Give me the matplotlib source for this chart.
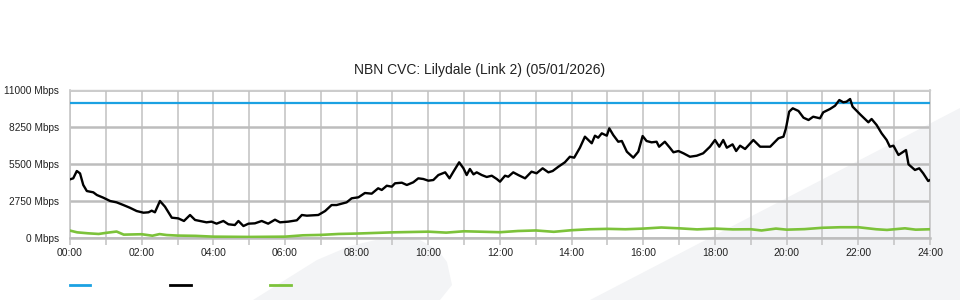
import numpy as np
import matplotlib
matplotlib.use("Agg")
import matplotlib.pyplot as plt
from matplotlib.patches import Polygon
from matplotlib.lines import Line2D

plt.rcParams["font.family"] = ["Liberation Sans", "DejaVu Sans"]

title = "NBN CVC: Lilydale (Link 2) (05/01/2026)"

# capacity (constant)
cap_hours = [0, 24]
cap_mbps = [10000, 10000]

# traffic in (black)
in_hours = [0.00, 0.09, 0.19, 0.28, 0.37, 0.47, 0.65, 0.75, 0.93, 1.12, 1.30, 1.49, 1.67,
            1.86, 2.05, 2.19, 2.28, 2.37, 2.51, 2.65, 2.84, 3.02, 3.18, 3.35, 3.49, 3.63,
            3.81, 3.95, 4.09, 4.28, 4.42, 4.60, 4.70, 4.84, 4.98, 5.16, 5.35, 5.53, 5.72,
            5.86, 6.09, 6.33, 6.47, 6.61, 6.93, 7.12, 7.30, 7.44, 7.58, 7.72, 7.86, 8.05,
            8.23, 8.42, 8.60, 8.70, 8.84, 8.98, 9.07, 9.26, 9.40, 9.58, 9.72, 9.86, 10.00,
            10.14, 10.28, 10.47, 10.59, 10.70, 10.86, 10.98, 11.07, 11.16, 11.26, 11.35,
            11.49, 11.63, 11.77, 11.91, 12.00, 12.14, 12.23, 12.37, 12.51, 12.70, 12.88,
            13.02, 13.19, 13.35, 13.47, 13.63, 13.81, 13.95, 14.07, 14.23, 14.37, 14.56,
            14.65, 14.74, 14.84, 14.98, 15.05, 15.16, 15.30, 15.40, 15.54, 15.72, 15.86,
            15.98, 16.09, 16.23, 16.37, 16.44, 16.60, 16.74, 16.84, 16.98, 17.12, 17.30,
            17.49, 17.67, 17.86, 18.00, 18.12, 18.23, 18.33, 18.49, 18.59, 18.70, 18.84,
            19.07, 19.26, 19.54, 19.77, 19.91, 19.98, 20.07, 20.17, 20.33, 20.47, 20.61,
            20.74, 20.93, 21.02, 21.21, 21.35, 21.47, 21.58, 21.67, 21.77, 21.84, 22.05,
            22.28, 22.37, 22.51, 22.65, 22.79, 22.88, 22.98, 23.12, 23.26, 23.33, 23.40,
            23.58, 23.70, 23.81, 23.95, 24.00]
in_mbps = [4360, 4435, 4980, 4800, 3940, 3490, 3395, 3195, 2995, 2750, 2650, 2450, 2250,
           2005, 1880, 1910, 2030, 1910, 2750, 2330, 1510, 1460, 1265, 1710, 1340, 1265,
           1165, 1215, 1065, 1265, 1020, 965, 1265, 890, 1065, 1090, 1265, 1065, 1360,
           1165, 1215, 1315, 1710, 1660, 1710, 2005, 2450, 2450, 2550, 2650, 2950, 3025,
           3345, 3295, 3695, 3570, 3885, 3815, 4065, 4110, 3940, 4140, 4435, 4385, 4260,
           4310, 4680, 4880, 4435, 4930, 5625, 5180, 4680, 5130, 4730, 4880,
           4680, 4535, 4630, 4385, 4185, 4630, 4555, 4880, 4680, 4435, 4930,
           4810, 5180, 4880, 4980, 5300, 5625, 6040, 5970, 6710, 7530, 7040,
           7605, 7455, 7780, 7605, 8150, 7655, 7155, 7210, 6415, 5970, 6415,
           7580, 7210, 7110, 7155, 6785, 7155, 6710, 6370, 6465, 6295, 6040,
           6115, 6295, 6785, 7285, 6785, 7285, 6710, 6960, 6465, 6860, 6615,
           7285, 6785, 6785, 7410, 7530, 8150, 9390, 9640, 9440, 8940, 8770,
           9015, 8895, 9340, 9590, 9830, 10255, 10085, 10130, 10330, 9760, 9190,
           8600, 8845, 8400, 7780, 7285, 6785, 6860, 6170, 6415, 6540, 5475,
           5055, 5180, 4810, 4235, 4310]

# traffic out (green)
out_hours = [0.0, 0.2, 0.5, 0.8, 1.0, 1.3, 1.5, 2.0, 2.3, 2.5, 2.7, 3.0, 3.5, 4.0, 5.0, 6.0,
             6.5, 7.0, 7.5, 8.0, 9.0, 10.0, 10.5, 11.0, 12.0, 12.5, 13.0, 13.5, 14.0, 14.5,
             15.0, 15.5, 16.0, 16.5, 17.0, 17.5, 18.0, 18.5, 19.0, 19.3, 19.7, 20.0, 20.5,
             21.0, 21.5, 22.0, 22.5, 22.8, 23.3, 23.6, 24.0]
out_mbps = [550, 420, 350, 300, 380, 480, 250, 280, 170, 290, 220, 180, 160, 100, 80, 100,
            200, 230, 300, 330, 420, 470, 400, 500, 430, 520, 560, 460, 580, 650,
            680, 650, 700, 780, 720, 640, 700, 640, 650, 560, 700, 620, 660,
            760, 800, 800, 650, 600, 720, 620, 650]

y_ticks = [0, 2750, 5500, 8250, 11000]
y_labels = ["0 Mbps", "2750 Mbps", "5500 Mbps", "8250 Mbps", "11000 Mbps"]
x_ticks = list(range(0, 25, 2))
x_labels = ["%02d:00" % h for h in x_ticks]

W, H = 960, 300
fig = plt.figure(figsize=(W / 100, H / 100), dpi=100)
fig.patch.set_facecolor("white")

# faint watermark behind the chart
wm = "#f3f4f6"
shape1 = [(253, 300), (285, 280), (317, 260), (350, 246), (380, 239), (400, 237),
          (420, 240), (438, 250), (447, 262), (452, 285), (440, 300)]
shape2 = [(590, 300), (960, 108), (960, 300)]
for s in (shape1, shape2):
    pts = [(x / W, 1 - y / H) for x, y in s]
    fig.patches.append(Polygon(pts, closed=True, transform=fig.transFigure,
                               facecolor=wm, edgecolor="none", zorder=-5))

ax = fig.add_axes([70 / W, 1 - 238 / H, 860 / W, 148 / H])
ax.set_zorder(2)
ax.set_facecolor("none")

ax.plot(cap_hours, cap_mbps, color="#1ba1e2", lw=1.6, zorder=3)
ax.plot(in_hours, in_mbps, color="black", lw=1.7, zorder=4)
ax.plot(out_hours, out_mbps, color="#7cc23a", lw=1.9, zorder=3)

ax.set_xlim(0, 24)
ax.set_ylim(0, 11000)
ax.set_yticks(y_ticks)
ax.set_yticklabels(y_labels)
ax.set_xticks(x_ticks)
ax.set_xticklabels(x_labels)
ax.set_xticks(range(0, 25), minor=True)

grid_c = "#c6c6c6"
ax.grid(axis="x", which="both", color=grid_c, lw=1.2, zorder=1)
ax.grid(axis="y", which="major", color="#bdbdbd", lw=1.8, zorder=1)

for side in ("left", "right"):
    ax.spines[side].set_color(grid_c)
    ax.spines[side].set_linewidth(1.2)
ax.spines["top"].set_color("#cccccc")
ax.spines["top"].set_linewidth(1.0)
ax.spines["bottom"].set_color("#bdbdbd")
ax.spines["bottom"].set_linewidth(1.8)

ax.tick_params(axis="x", which="both", length=5, width=1.2, color=grid_c,
               labelsize=7.5, pad=2, labelcolor="#222222")
ax.tick_params(axis="y", length=0, labelsize=7.3, pad=8, labelcolor="#222222")

fig.text(480 / W, 1 - 70 / H, title, ha="center", va="center", fontsize=10, color="#222222")

handles = [Line2D([], [], color="#1ba1e2", lw=2),
           Line2D([], [], color="black", lw=2),
           Line2D([], [], color="#7cc23a", lw=2)]
fig.legend(handles, ["", "", ""], ncol=3, frameon=False, loc="center left",
           bbox_to_anchor=(70 / W, 1 - 285 / H), borderpad=0, borderaxespad=0,
           handlelength=2.1, handletextpad=0, columnspacing=8.2, fontsize=7)

fig.savefig("out.png", dpi=100)
